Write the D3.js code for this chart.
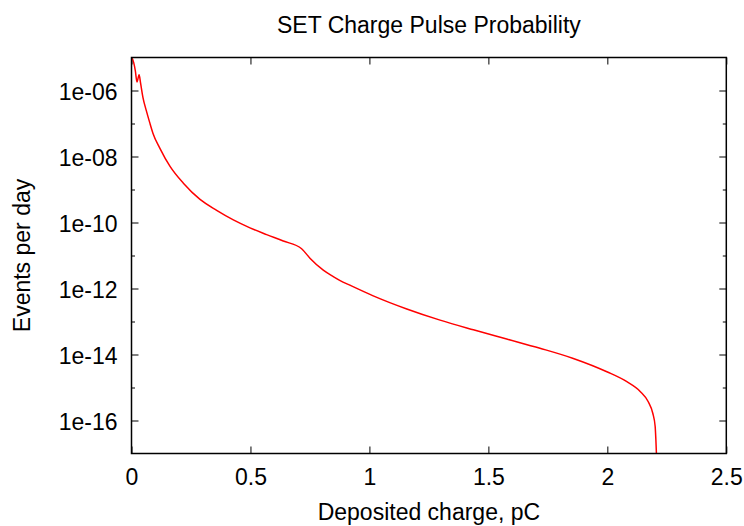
<!DOCTYPE html>
<html>
<head>
<meta charset="utf-8">
<script src="https://cdn.jsdelivr.net/npm/d3@7"></script>
<style>
  body { margin: 0; background: #fff; }
  svg text { font-family: "Liberation Sans", Arial, sans-serif; fill: #000; }
</style>
</head>
<body>
<div id="chart"></div>
<script>
// deposited charge (pC) and events per day
var charge = [0.003, 0.009, 0.016, 0.023, 0.032, 0.038, 0.048, 0.062, 0.076, 0.090,
    0.120, 0.162, 0.218, 0.288, 0.358, 0.428, 0.498, 0.568, 0.638, 0.715,
    0.750, 0.806, 0.848, 0.877, 0.918, 1.016, 1.157, 1.297, 1.437, 1.577,
    1.717, 1.857, 1.998, 2.082, 2.138, 2.172, 2.191, 2.201, 2.204, 2.208];
var events = [9.5e-6, 7.1e-6, 4.0e-6, 1.8e-6, 3.0e-6, 1.7e-6, 6.2e-7, 2.5e-7, 1.1e-7, 5.1e-8,
    1.74e-8, 5.0e-9, 1.55e-9, 5.0e-10, 2.34e-10, 1.2e-10, 6.9e-11, 4.3e-11, 2.75e-11, 1.6e-11,
    8.3e-12, 3.6e-12, 2.3e-12, 1.74e-12, 1.26e-12, 6.0e-13, 2.4e-13, 1.1e-13, 5.6e-14, 2.95e-14,
    1.55e-14, 7.6e-15, 3.0e-15, 1.5e-15, 7.6e-16, 3.7e-16, 1.66e-16, 6.6e-17, 2.6e-17, 5e-18];

var xTicks = [0, 0.5, 1, 1.5, 2, 2.5];
var xTickLabels = ['0', '0.5', '1', '1.5', '2', '2.5'];
var yTicks = [1e-16, 1e-14, 1e-12, 1e-10, 1e-8, 1e-6];
var yTickLabels = ['1e-16', '1e-14', '1e-12', '1e-10', '1e-08', '1e-06'];
var yMinorTicks = [1e-15, 1e-13, 1e-11, 1e-9, 1e-7];

var margin = {top: 57.5, right: 17.7, bottom: 72.5, left: 131.5};
var svg = d3.select('#chart')
    .append('svg')
    .attr('width', 744)
    .attr('height', 526);

var width = +svg.attr('width') - margin.left - margin.right,
    height = +svg.attr('height') - margin.top - margin.bottom;

var g = svg.append('g')
    .attr('transform', 'translate(' + margin.left + ',' + margin.top + ')');

var x = d3.scaleLinear().domain([0, 2.5]).range([0, width]);
var y = d3.scaleLog().domain([1e-17, 1e-5]).range([height, 0]);

var fs = 23;

// ticks pointing inwards on all four sides, gnuplot style
function style(sel) {
    sel.select('.domain').remove();
    sel.selectAll('line').attr('stroke', '#000').attr('stroke-width', 1);
    sel.selectAll('text').attr('font-size', fs).attr('font-family', null);
}

g.append('g')
    .attr('transform', 'translate(0,' + height + ')')
    .call(d3.axisBottom(x).tickValues(xTicks)
        .tickFormat(function (d, i) { return xTickLabels[i]; })
        .tickSizeInner(-7).tickSizeOuter(0).tickPadding(15.5))
    .call(style);

g.append('g')
    .call(d3.axisTop(x).tickValues(xTicks).tickFormat('')
        .tickSizeInner(-7).tickSizeOuter(0))
    .call(style);

g.append('g')
    .call(d3.axisLeft(y).tickValues(yTicks)
        .tickFormat(function (d, i) { return yTickLabels[i]; })
        .tickSizeInner(-7).tickSizeOuter(0).tickPadding(14))
    .call(style)
    .selectAll('text').attr('dy', '0.4em');

g.append('g')
    .attr('transform', 'translate(' + width + ',0)')
    .call(d3.axisRight(y).tickValues(yTicks).tickFormat('')
        .tickSizeInner(-7).tickSizeOuter(0))
    .call(style);

g.append('g')
    .call(d3.axisLeft(y).tickValues(yMinorTicks).tickFormat('')
        .tickSizeInner(-3.5).tickSizeOuter(0))
    .call(style);

g.append('g')
    .attr('transform', 'translate(' + width + ',0)')
    .call(d3.axisRight(y).tickValues(yMinorTicks).tickFormat('')
        .tickSizeInner(-3.5).tickSizeOuter(0))
    .call(style);

// clip the curve to the plot frame
svg.append('defs').append('clipPath')
    .attr('id', 'plot-clip')
    .append('rect')
    .attr('width', width)
    .attr('height', height);

var line = d3.line()
    .x(function (d, i) { return x(charge[i]); })
    .y(function (d) { return y(d); })
    .curve(d3.curveMonotoneX);

g.append('path')
    .datum(events)
    .attr('clip-path', 'url(#plot-clip)')
    .attr('fill', 'none')
    .attr('stroke', '#ff0000')
    .attr('stroke-width', 1.5)
    .attr('stroke-linejoin', 'round')
    .attr('d', line);

// border
g.append('rect')
    .attr('width', width)
    .attr('height', height)
    .attr('fill', 'none')
    .attr('stroke', '#000')
    .attr('stroke-width', 1.5);

svg.append('text')
    .attr('x', margin.left + width / 2)
    .attr('y', 32.7)
    .attr('text-anchor', 'middle')
    .attr('font-size', fs)
    .text('SET Charge Pulse Probability');

svg.append('text')
    .attr('x', margin.left + width / 2)
    .attr('y', 520)
    .attr('text-anchor', 'middle')
    .attr('font-size', fs)
    .text('Deposited charge, pC');

svg.append('text')
    .attr('transform', 'translate(30,' + (margin.top + height / 2) + ') rotate(-90)')
    .attr('text-anchor', 'middle')
    .attr('font-size', fs)
    .text('Events per day');
</script>
</body>
</html>
